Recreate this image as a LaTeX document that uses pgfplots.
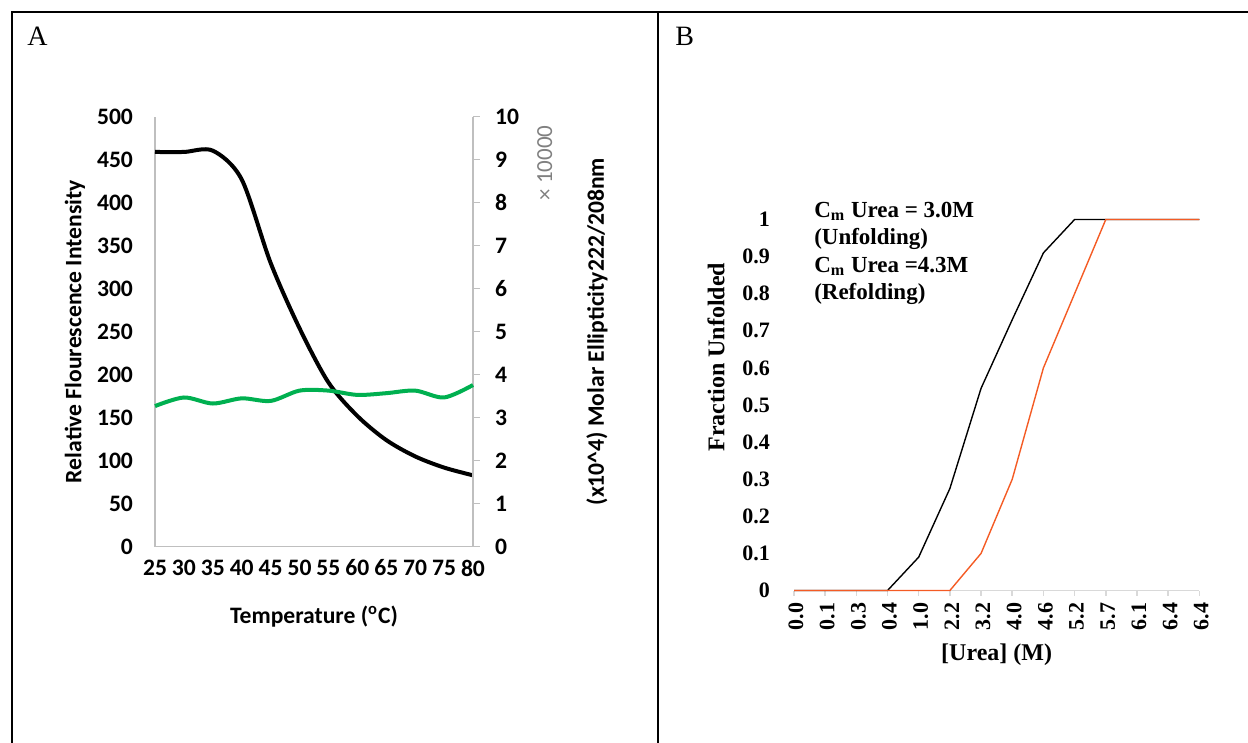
\documentclass[border=0pt]{standalone}
\usepackage{pgfplots}
\pgfplotsset{compat=1.18}
\usepackage{fontspec}
\setmainfont{Carlito}
\newfontfamily\tnr{Liberation Serif}
\definecolor{axgray}{RGB}{191,191,191}
\definecolor{axgrayB}{RGB}{217,217,217}
\definecolor{cdgreen}{RGB}{0,176,80}
\definecolor{refo}{RGB}{244,91,36}
\begin{document}
\begin{tikzpicture}
\path[use as bounding box] (0,0) rectangle (624pt,-371.5pt);
\draw[line width=1pt] (6pt,-371.5pt) -- (6pt,-6.25pt) -- (624pt,-6.25pt);
\draw[line width=1pt] (329pt,-6.25pt) -- (329pt,-371.5pt);
\node[anchor=west,inner sep=0pt,font=\tnr\fontsize{14}{16}\selectfont] at (13.5pt,-18pt) {A};
\node[anchor=west,inner sep=0pt,font=\tnr\fontsize{14}{16}\selectfont] at (337.5pt,-18pt) {B};

% Panel A, left axis
\begin{axis}[
 at={(77.5pt,-273.35pt)}, anchor=south west, scale only axis,
 width=159pt, height=215pt,
 xmin=25, xmax=80, ymin=0, ymax=500,
 axis y line*=left, axis x line*=bottom,
 axis line style={axgray, line width=0.75pt},
 xtick={25,30,...,80}, ytick={0,50,...,500},
 major tick length=0pt,
 /pgf/number format/assume math mode=true,
 tick label style={font=\bfseries\fontsize{11.8}{13}\selectfont},
 yticklabel style={xshift=-7.5pt},
 xticklabel style={yshift=-3pt},
 clip=false,
 xlabel={Temperature (\textsuperscript{o}C)},
 ylabel={Relative Flourescence Intensity},
 every axis x label/.style={at={(axis description cs:0.5,-0.163)},anchor=center,font=\bfseries\fontsize{11.8}{13}\selectfont},
 every axis y label/.style={at={(axis description cs:-0.2516,0.5)},rotate=90,anchor=center,font=\bfseries\fontsize{11.8}{13}\selectfont},
]
\addplot[black, line width=2pt, smooth, tension=0.5] coordinates {
(25,459) (30,459) (35,460.5) (40,427) (45,330) (50,254) (55,191) (60,152) (65,124) (70,105) (75,92) (80,83)};
\end{axis}

% Panel A, right axis
\begin{axis}[
 at={(77.5pt,-273.35pt)}, anchor=south west, scale only axis,
 width=159pt, height=215pt,
 xmin=25, xmax=80, ymin=0, ymax=10,
 axis y line*=right, axis x line=none,
 axis line style={axgray, line width=0.75pt},
 ytick={0,1,...,10},
 tick align=outside, major tick length=3.5pt,
 tick style={axgray, line width=0.75pt},
 /pgf/number format/assume math mode=true,
 tick label style={font=\bfseries\fontsize{11.8}{13}\selectfont},
 yticklabel style={xshift=4pt},
 clip=false,
 ylabel={(x10\textasciicircum4) Molar Ellipticity222/208nm},
 every axis y label/.style={at={(axis description cs:1.39,0.5)},rotate=90,anchor=center,font=\bfseries\fontsize{11.8}{13}\selectfont},
]
\addplot[cdgreen, line width=2pt, smooth, tension=0.5] coordinates {
(25,3.27) (30,3.47) (35,3.33) (40,3.45) (45,3.39) (50,3.63) (55,3.63) (60,3.53) (65,3.57) (70,3.63) (75,3.47) (80,3.76)};
\node[rotate=90, anchor=center, text=gray, font=\fontsize{11.5}{13}\selectfont] at (axis description cs:1.226,0.892) {× 10000};
\end{axis}

% Panel B
\begin{axis}[
 at={(397pt,-295.25pt)}, anchor=south west, scale only axis,
 width=202.65pt, height=185.5pt,
 xmin=0, xmax=13, ymin=0, ymax=1,
 axis x line*=bottom, axis y line*=left,
 x axis line style={axgrayB, line width=0.75pt},
 y axis line style={draw=none},
 xtick={0,...,13},
 xticklabels={0.0,0.1,0.3,0.4,1.0,2.2,3.2,4.0,4.6,5.2,5.7,6.1,6.4,6.4},
 ytick={0,0.1,0.2,0.3,0.4,0.5,0.6,0.7,0.8,0.9,1},
 yticklabels={0,0.1,0.2,0.3,0.4,0.5,0.6,0.7,0.8,0.9,1},
 tick align=outside,
 major tick length=2.5pt,
 xtick style={axgrayB, line width=0.75pt},
 ytick style={draw=none},
 tick label style={font=\tnr\bfseries\fontsize{11}{13}\selectfont},
 xticklabel style={rotate=90, anchor=east, yshift=-1pt},
 yticklabel style={xshift=-6pt},
 clip=false,
 xlabel={[Urea] (M)},
 ylabel={Fraction Unfolded},
 every axis x label/.style={at={(axis description cs:0.5,-0.174)},anchor=center,font=\tnr\bfseries\fontsize{12}{14}\selectfont},
 every axis y label/.style={at={(axis description cs:-0.1925,0.629)},rotate=90,anchor=center,font=\tnr\bfseries\fontsize{12}{14}\selectfont},
]
\addplot[black, line width=0.7pt] coordinates {
(0,0) (1,0) (2,0) (3,0) (4,0.09) (5,0.275) (6,0.545) (7,0.73) (8,0.91) (9,1) (10,1) (11,1) (12,1) (13,1)};
\addplot[refo, line width=0.7pt] coordinates {
(0,0) (1,0) (2,0) (3,0) (4,0) (5,0) (6,0.1) (7,0.3) (8,0.6) (9,0.8) (10,1) (11,1) (12,1) (13,1)};
\node[anchor=north west, align=left, inner sep=0pt, font=\tnr\bfseries\fontsize{11.5}{13.75}\selectfont] at (axis description cs:0.049,1.049)
 {C\textsubscript{m} Urea = 3.0M\\(Unfolding)\\C\textsubscript{m} Urea =4.3M\\(Refolding)};
\end{axis}
\end{tikzpicture}
\end{document}
